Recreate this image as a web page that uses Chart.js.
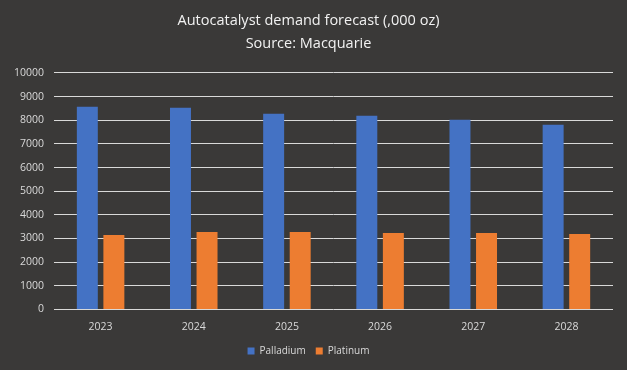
<!DOCTYPE html>
<html>
<head>
<meta charset="utf-8">
<script src="https://cdn.jsdelivr.net/npm/chart.js@4"></script>
<style>
  html, body { margin: 0; padding: 0; background: #3a3938; }
  #wrap { width: 627px; height: 370px; }
</style>
</head>
<body>
<div id="wrap"><canvas id="chart"></canvas></div>
<script>
// Categories and series
const years = ["2023", "2024", "2025", "2026", "2027", "2028"];
const palladium = [8570, 8530, 8275, 8190, 8020, 7810];
const platinum = [3150, 3275, 3275, 3235, 3235, 3190];

const ctx = document.getElementById("chart").getContext("2d");
new Chart(ctx, {
  type: "bar",
  data: {
    labels: years,
    datasets: [
      {
        label: "Palladium",
        data: palladium,
        backgroundColor: "#4472C4",
        barPercentage: 0.79,
        categoryPercentage: 0.57,
      },
      {
        label: "Platinum",
        data: platinum,
        backgroundColor: "#ED7D31",
        barPercentage: 0.79,
        categoryPercentage: 0.57,
      },
    ],
  },
  options: {
    responsive: true,
    maintainAspectRatio: false,
    animation: false,
    layout: {
      padding: { top: 6, right: 14, bottom: 4, left: 4 },
    },
    plugins: {
      title: {
        display: true,
        text: ["Autocatalyst demand forecast (,000 oz)", "Source: Macquarie"],
        color: "#f2f2f2",
        font: { family: "'Open Sans', sans-serif", size: 14.5, weight: "normal", lineHeight: 1.55 },
        padding: { top: 4, bottom: 18 },
      },
      legend: {
        position: "bottom",
        labels: {
          color: "#d9d9d9",
          boxWidth: 7,
          boxHeight: 7,
          font: { family: "'Open Sans', sans-serif", size: 10 },
        },
      },
      tooltip: { enabled: false },
    },
    scales: {
      x: {
        grid: { display: false },
        border: { display: false },
        ticks: { color: "#d9d9d9", font: { family: "'Open Sans', sans-serif", size: 10.5 } },
      },
      y: {
        min: 0,
        max: 10000,
        ticks: {
          stepSize: 1000,
          color: "#d9d9d9",
          padding: 10,
          font: { family: "'Open Sans', sans-serif", size: 10.5 },
          callback: (v) => String(v),
        },
        grid: { color: "#d9d9d9", lineWidth: 1, drawTicks: false },
        border: { display: false },
      },
    },
  },
});
</script>
</body>
</html>
